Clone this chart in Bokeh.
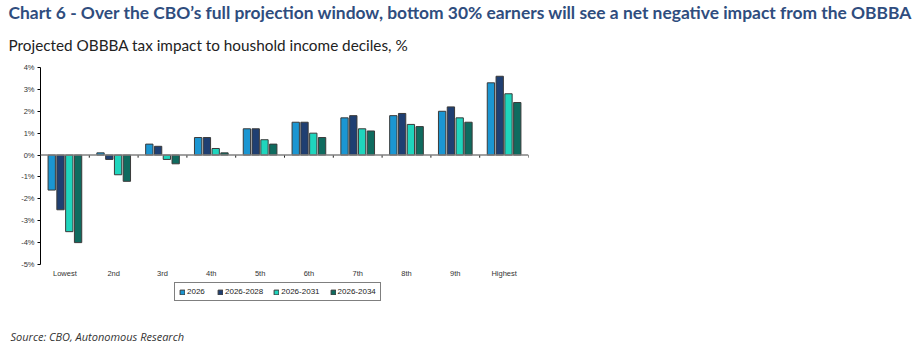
from bokeh.plotting import figure
from bokeh.models import (ColumnDataSource, FactorRange, Range1d, Span, Title, Legend, LegendItem,
                          PrintfTickFormatter, FixedTicker)
from bokeh.transform import dodge
from bokeh.embed import file_html
from bokeh.resources import INLINE

categories = ["Lowest", "2nd", "3rd", "4th", "5th", "6th", "7th", "8th", "9th", "Highest"]
series_names = ["2026", "2026-2028", "2026-2031", "2026-2034"]
v2026 = [-1.6, 0.1, 0.5, 0.8, 1.2, 1.5, 1.7, 1.8, 2.0, 3.3]
v2028 = [-2.5, -0.2, 0.4, 0.8, 1.2, 1.5, 1.8, 1.9, 2.2, 3.6]
v2031 = [-3.5, -0.9, -0.2, 0.3, 0.7, 1.0, 1.2, 1.4, 1.7, 2.8]
v2034 = [-4.0, -1.2, -0.4, 0.1, 0.5, 0.8, 1.1, 1.3, 1.5, 2.4]
y_ticks = [-5, -4, -3, -2, -1, 0, 1, 2, 3, 4]

colors = ["#1b96d2", "#1f3f72", "#1fd5bd", "#0f6b5f"]
offsets = [-0.27, -0.09, 0.09, 0.27]

# layout geometry (pixels)
W, H = 922, 356
AX_TOP, AX_BOTTOM = 67, 264          # pixel rows of the top and bottom y ticks
FRAME_BOTTOM = 314                   # frame extends below the axis to hold the legend
LEGEND_BOTTOM = 301
y_min, y_max = min(y_ticks), max(y_ticks)
units_per_px = (y_max - y_min) / (AX_BOTTOM - AX_TOP)
y_start = y_min - (FRAME_BOTTOM - AX_BOTTOM) * units_per_px

src = ColumnDataSource(dict(cat=categories, s0=v2026, s1=v2028, s2=v2031, s3=v2034,
                            zero=[0] * len(categories), tick=[-0.12] * len(categories)))

p = figure(width=W, height=H, x_range=FactorRange(*categories), y_range=Range1d(y_start, y_max),
           output_backend="svg", toolbar_location=None,
           min_border_left=40, min_border_right=394, min_border_top=AX_TOP,
           min_border_bottom=H - FRAME_BOTTOM)
p.outline_line_color = None
p.xgrid.grid_line_color = None
p.ygrid.grid_line_color = None
p.x_range.range_padding = 0

items = []
for i, (name, col) in enumerate(zip(series_names, colors)):
    r = p.vbar(x=dodge("cat", offsets[i], range=p.x_range), top="s%d" % i, bottom=0, width=0.15,
               source=src, fill_color=col, line_color="#3a3a3a", line_width=1)
    items.append(LegendItem(label=name, renderers=[r]))

p.add_layout(Span(location=0, dimension="width", line_color="#808080", line_width=1.5))
p.segment(x0=dodge("cat", 0.5, range=p.x_range), x1=dodge("cat", 0.5, range=p.x_range),
          y0="zero", y1="tick", source=src, line_color="#222222", line_width=1)

# y axis
ya = p.yaxis[0]
ya.ticker = FixedTicker(ticks=y_ticks)
ya.bounds = (y_min, y_max)
ya.formatter = PrintfTickFormatter(format="%d%%")
ya.axis_line_color = "#000000"
ya.major_tick_line_color = "#000000"
ya.major_tick_out = 3
ya.major_tick_in = 0
ya.minor_tick_line_color = None
ya.major_label_text_font = "Liberation Sans"
ya.major_label_text_font_size = "7.5px"
ya.major_label_text_color = "#333333"
ya.major_label_standoff = 3

# x axis (drawn at the bottom of the value axis)
xa = p.xaxis[0]
xa.fixed_location = y_min
xa.axis_line_color = None
xa.major_tick_line_color = None
xa.minor_tick_line_color = None
xa.major_label_text_font = "Liberation Sans"
xa.major_label_text_font_size = "7.5px"
xa.major_label_text_color = "#333333"
xa.major_label_standoff = -2

legend = Legend(items=items, orientation="horizontal", location=(134, FRAME_BOTTOM - LEGEND_BOTTOM),
                border_line_color="#000000", border_line_width=1,
                glyph_width=6, glyph_height=6, label_text_font="Liberation Sans",
                label_text_font_size="8px", label_text_color="#222222",
                label_standoff=2, spacing=10, padding=4, margin=0, label_height=8)
p.add_layout(legend, "center")

p.add_layout(Title(text="Source: CBO, Autonomous Research", align="left", offset=-30, standoff=25,
                   text_font="Open Sans", text_font_style="italic", text_font_size="11px",
                   text_color="#333333"), "below")

p.add_layout(Title(text="Projected OBBBA tax impact to houshold income deciles, %", align="left",
                   offset=-32, standoff=23, vertical_align="top", text_font="Lato",
                   text_font_style="normal", text_font_size="15.3px", text_color="#222222"), "above")
p.add_layout(Title(text="Chart 6 - Over the CBO\u2019s full projection window, bottom 30% earners will see a net negative impact from the OBBBA",
                   align="left", offset=-32, standoff=0, vertical_align="top", text_font="Lato",
                   text_font_style="bold", text_font_size="17.4px", text_color="#2f4d7e"), "above")

open("out.html", "w").write(file_html(p, INLINE))
